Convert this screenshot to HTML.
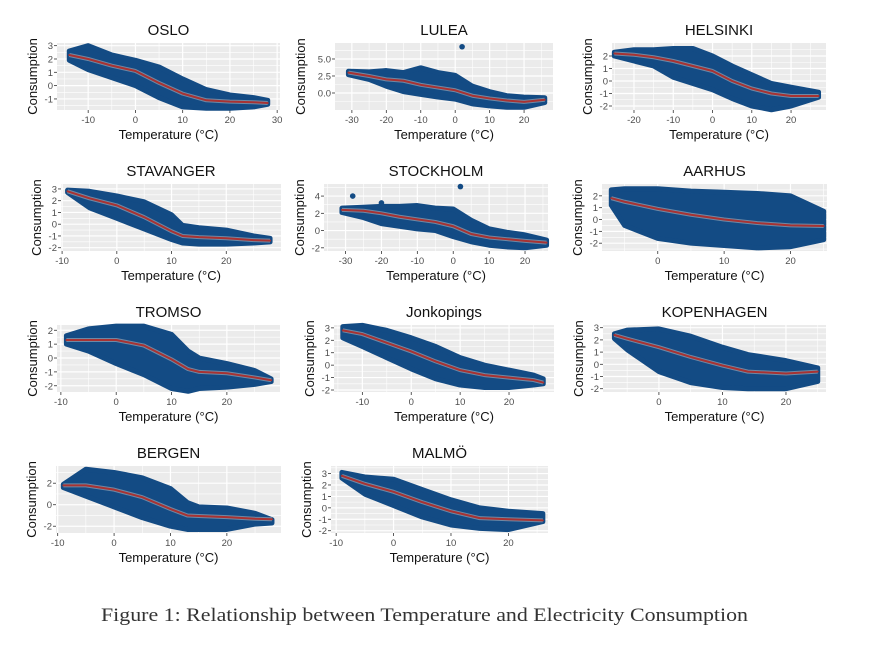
<!DOCTYPE html>
<html><head><meta charset="utf-8">
<style>
html,body{margin:0;padding:0;background:#fff;}
svg{display:block;}
</style></head>
<body>
<svg id="fig" width="881" height="652" viewBox="0 0 881 652" xmlns="http://www.w3.org/2000/svg">
<rect width="881" height="652" fill="#fff"/>
<text x="101" y="621" textLength="647" lengthAdjust="spacingAndGlyphs" font-family="'Liberation Serif', serif" font-size="19" fill="#333">Figure 1: Relationship between Temperature and Electricity Consumption</text>
</svg>
<script>
// ---- data (temperature knots, smooth fit, upper/lower cloud envelopes) ----
const osloTemp=[-14,-10,-5,0,5,10,15,20,25,28];
const osloFit=[2.3,2.0,1.5,1.1,0.2,-0.6,-1.1,-1.2,-1.25,-1.3];
const osloHigh=[2.6,3.0,2.3,1.9,1.4,0.5,-0.3,-0.7,-0.9,-1.1];
const osloLow=[1.9,1.2,0.6,0.0,-0.9,-1.6,-1.7,-1.7,-1.6,-1.4];

const luleaTemp=[-31,-25,-20,-15,-10,-5,0,5,10,15,20,26];
const luleaFit=[3.0,2.5,2.0,1.8,1.2,0.8,0.4,-0.4,-0.8,-1.1,-1.3,-1.0];
const luleaHigh=[3.2,3.1,3.3,3.0,3.7,3.0,2.6,1.0,0.2,-0.4,-0.6,-0.7];
const luleaLow=[2.7,2.0,1.0,0.2,-0.2,-0.6,-0.9,-1.6,-1.9,-2.1,-2.1,-1.4];
const luleaOutX=[2];
const luleaOutY=[6.8];

const helsinkiTemp=[-25,-20,-15,-10,-5,0,5,10,15,20,27];
const helsinkiFit=[2.2,2.1,1.9,1.6,1.2,0.8,0.0,-0.6,-1.0,-1.2,-1.2];
const helsinkiHigh=[2.3,2.5,2.5,2.6,2.6,2.0,1.2,0.5,-0.2,-0.5,-0.9];
const helsinkiLow=[2.0,1.6,1.2,0.3,-0.2,-0.7,-1.4,-2.0,-2.3,-2.0,-1.3];

const stavangerTemp=[-9,-5,0,5,10,12,15,20,25,28];
const stavangerFit=[2.8,2.2,1.6,0.6,-0.6,-1.0,-1.1,-1.2,-1.35,-1.4];
const stavangerHigh=[2.9,2.8,2.4,1.9,0.8,-0.1,-0.3,-0.5,-1.0,-1.2];
const stavangerLow=[2.7,1.4,0.5,-0.4,-1.3,-1.6,-1.7,-1.7,-1.6,-1.5];

const stockholmTemp=[-31,-25,-20,-15,-10,-5,0,5,10,15,20,26];
const stockholmFit=[2.4,2.3,2.0,1.6,1.3,1.0,0.5,-0.4,-0.8,-1.0,-1.2,-1.4];
const stockholmHigh=[2.6,2.7,2.8,2.8,2.9,2.6,2.5,1.2,0.2,-0.2,-0.5,-1.1];
const stockholmLow=[2.1,1.5,0.8,0.5,0.2,0.0,-0.7,-1.3,-1.7,-1.9,-2.0,-1.7];
const stockholmOutX=[2,-28,-20];
const stockholmOutY=[5.1,4.0,3.2];

const aarhusTemp=[-7,-5,0,5,10,15,20,25];
const aarhusFit=[1.8,1.5,0.9,0.4,0.0,-0.3,-0.5,-0.55];
const aarhusHigh=[2.5,2.6,2.6,2.4,2.3,2.2,2.0,0.7];
const aarhusLow=[1.2,-0.5,-1.6,-2.0,-2.2,-2.4,-2.3,-1.7];

const tromsoTemp=[-9,-5,0,5,10,13,15,20,25,28];
const tromsoFit=[1.3,1.3,1.3,0.9,-0.1,-0.8,-1.0,-1.1,-1.4,-1.6];
const tromsoHigh=[1.6,2.1,2.3,2.3,1.7,0.5,0.0,-0.4,-0.9,-1.5];
const tromsoLow=[1.0,0.5,-0.4,-1.2,-2.2,-2.4,-2.2,-2.1,-1.9,-1.7];

const jonkTemp=[-14,-10,-5,0,5,10,15,20,25,27];
const jonkFit=[2.8,2.5,1.8,1.1,0.3,-0.4,-0.8,-1.0,-1.2,-1.4];
const jonkHigh=[3.1,3.2,2.8,2.2,1.5,0.6,0.0,-0.4,-0.8,-1.1];
const jonkLow=[2.2,1.5,0.6,-0.3,-1.1,-1.6,-1.8,-1.8,-1.6,-1.5];

const kopTemp=[-7,-5,0,5,10,14,20,25];
const kopFit=[2.4,2.1,1.4,0.6,-0.1,-0.6,-0.75,-0.6];
const kopHigh=[2.5,2.8,2.9,2.3,1.4,0.8,0.3,-0.3];
const kopLow=[2.1,1.2,-0.6,-1.5,-1.9,-2.0,-2.0,-1.4];

const bergenTemp=[-9,-5,0,5,10,13,15,20,25,28];
const bergenFit=[1.8,1.8,1.4,0.7,-0.4,-1.0,-1.05,-1.15,-1.3,-1.35];
const bergenHigh=[1.9,3.3,3.0,2.5,1.5,0.2,-0.2,-0.3,-0.8,-1.4];
const bergenLow=[1.6,0.8,-0.2,-1.2,-2.0,-2.3,-2.3,-2.3,-1.8,-1.7];

const malmoTemp=[-9,-5,0,5,10,15,20,26];
const malmoFit=[2.8,2.1,1.4,0.5,-0.3,-0.9,-1.0,-1.1];
const malmoHigh=[3.1,2.7,2.5,1.6,0.7,0.0,-0.3,-0.5];
const malmoLow=[2.6,1.2,0.2,-0.8,-1.5,-1.8,-1.9,-1.2];

// tick labels
const osloXTicks=[-10,0,10,20,30], osloYTicks=[-1,0,1,2,3];
const luleaXTicks=[-30,-20,-10,0,10,20], luleaYTicks=[0,2.5,5];
const helsinkiXTicks=[-20,-10,0,10,20], helsinkiYTicks=[-2,-1,0,1,2];
const stavangerXTicks=[-10,0,10,20], stavangerYTicks=[-2,-1,0,1,2,3];
const stockholmXTicks=[-30,-20,-10,0,10,20], stockholmYTicks=[-2,0,2,4];
const aarhusXTicks=[0,10,20], aarhusYTicks=[-2,-1,0,1,2];
const tromsoXTicks=[-10,0,10,20], tromsoYTicks=[-2,-1,0,1,2];
const jonkXTicks=[-10,0,10,20], jonkYTicks=[-2,-1,0,1,2,3];
const kopXTicks=[0,10,20], kopYTicks=[-2,-1,0,1,2,3];
const bergenXTicks=[-10,0,10,20], bergenYTicks=[-2,0,2];
const malmoXTicks=[-10,0,10,20], malmoYTicks=[-2,-1,0,1,2,3];

// ---- layout ----
const panels=[
 {name:'OSLO',slug:'oslo',box:[57,43,280,110],xd:[-16.6,30.6],yd:[-1.83,3.2],t:osloTemp,f:osloFit,h:osloHigh,l:osloLow,xt:osloXTicks,yt:osloYTicks,dec:0},
 {name:'LULEA',slug:'lulea',box:[335,43,553,110],xd:[-34.9,28.4],yd:[-2.5,7.35],t:luleaTemp,f:luleaFit,h:luleaHigh,l:luleaLow,xt:luleaXTicks,yt:luleaYTicks,dec:1,ox:luleaOutX,oy:luleaOutY},
 {name:'HELSINKI',slug:'helsinki',box:[612,43,826,110],xd:[-25.6,28.9],yd:[-2.32,3.04],t:helsinkiTemp,f:helsinkiFit,h:helsinkiHigh,l:helsinkiLow,xt:helsinkiXTicks,yt:helsinkiYTicks,dec:0},
 {name:'STAVANGER',slug:'stavanger',box:[61,184,281,251],xd:[-10.2,30.0],yd:[-2.28,3.42],t:stavangerTemp,f:stavangerFit,h:stavangerHigh,l:stavangerLow,xt:stavangerXTicks,yt:stavangerYTicks,dec:0},
 {name:'STOCKHOLM',slug:'stockholm',box:[324,184,548,251],xd:[-36,26.4],yd:[-2.37,5.4],t:stockholmTemp,f:stockholmFit,h:stockholmHigh,l:stockholmLow,xt:stockholmXTicks,yt:stockholmYTicks,dec:0,ox:stockholmOutX,oy:stockholmOutY},
 {name:'AARHUS',slug:'aarhus',box:[602,184,827,251],xd:[-8.4,25.5],yd:[-2.66,3.0],t:aarhusTemp,f:aarhusFit,h:aarhusHigh,l:aarhusLow,xt:aarhusXTicks,yt:aarhusYTicks,dec:0},
 {name:'TROMSO',slug:'tromso',box:[57,325,280,392],xd:[-10.7,29.6],yd:[-2.45,2.38],t:tromsoTemp,f:tromsoFit,h:tromsoHigh,l:tromsoLow,xt:tromsoXTicks,yt:tromsoYTicks,dec:0},
 {name:'Jonkopings',slug:'jonkopings',box:[334,325,554,392],xd:[-15.8,29.2],yd:[-2.16,3.23],t:jonkTemp,f:jonkFit,h:jonkHigh,l:jonkLow,xt:jonkXTicks,yt:jonkYTicks,dec:0},
 {name:'KOPENHAGEN',slug:'kopenhagen',box:[603,325,826,392],xd:[-8.8,26.3],yd:[-2.27,3.22],t:kopTemp,f:kopFit,h:kopHigh,l:kopLow,xt:kopXTicks,yt:kopYTicks,dec:0},
 {name:'BERGEN',slug:'bergen',box:[56,466,281,533],xd:[-10.3,29.6],yd:[-2.63,3.6],t:bergenTemp,f:bergenFit,h:bergenHigh,l:bergenLow,xt:bergenXTicks,yt:bergenYTicks,dec:0},
 {name:'MALMÖ',slug:'malmo',box:[331,466,548,533],xd:[-10.9,26.9],yd:[-2.2,3.66],t:malmoTemp,f:malmoFit,h:malmoHigh,l:malmoLow,xt:malmoXTicks,yt:malmoYTicks,dec:0}
];

const NS='http://www.w3.org/2000/svg';
const svg=document.getElementById('fig');
function mk(tag,attrs,parent){const e=document.createElementNS(NS,tag);for(const k in attrs)e.setAttribute(k,attrs[k]);(parent||svg).appendChild(e);return e;}

panels.forEach(p=>{
  const [x0,y0,x1,y1]=p.box;
  const sx=v=>x0+(v-p.xd[0])/(p.xd[1]-p.xd[0])*(x1-x0);
  const sy=v=>y1-(v-p.yd[0])/(p.yd[1]-p.yd[0])*(y1-y0);
  const g=mk('g',{});
  
  
  const bg=mk('rect',{x:x0,y:y0,width:x1-x0,height:y1-y0,fill:'#EBEBEB'},g);
  
  
  const xs=p.xt[1]-p.xt[0], ys=p.yt[1]-p.yt[0];
  for(let v=p.xt[0]-xs/2; v<=p.xd[1]; v+=xs){ if(v>p.xd[0]){const X=sx(v); mk('line',{x1:X,x2:X,y1:y0,y2:y1,stroke:'#fff','stroke-width':0.6},g);} }
  for(let v=p.yt[0]-ys/2; v<=p.yd[1]; v+=ys){ if(v>p.yd[0]){const Y=sy(v); mk('line',{x1:x0,x2:x1,y1:Y,y2:Y,stroke:'#fff','stroke-width':0.6},g);} }
  p.xt.forEach(v=>{const X=sx(v);
    mk('line',{x1:X,x2:X,y1:y0,y2:y1,stroke:'#fff','stroke-width':1.2},g);
    mk('line',{x1:X,x2:X,y1:y1,y2:y1+3,stroke:'#333','stroke-width':0.8},g);
    const t=mk('text',{x:X,y:y1+13,'text-anchor':'middle','font-family':'Liberation Sans, sans-serif','font-size':9.5,fill:'#4D4D4D'},g);
    
    
    t.textContent=v;});
  p.yt.forEach(v=>{const Y=sy(v);
    mk('line',{x1:x0,x2:x1,y1:Y,y2:Y,stroke:'#fff','stroke-width':1.2},g);
    mk('line',{x1:x0-3,x2:x0,y1:Y,y2:Y,stroke:'#333','stroke-width':0.8},g);
    const t=mk('text',{x:x0-4,y:Y+3.5,'text-anchor':'end','font-family':'Liberation Sans, sans-serif','font-size':9.5,fill:'#4D4D4D'},g);
    
    
    t.textContent=p.dec?v.toFixed(1):v;});
  let pts=[];
  p.t.forEach((v,i)=>pts.push(sx(v)+','+sy(p.h[i])));
  for(let i=p.t.length-1;i>=0;i--) pts.push(sx(p.t[i])+','+sy(p.l[i]));
  const cloud=mk('polygon',{points:pts.join(' '),fill:'#134B84',stroke:'#134B84','stroke-width':5,'stroke-linejoin':'round'},g);
  
  
  if(p.ox){p.ox.forEach((v,i)=>{const c=mk('circle',{cx:sx(v),cy:sy(p.oy[i]),r:2.8,fill:'#134B84'},g);
    
    });}
  const lp=p.t.map((v,i)=>sx(v)+','+sy(p.f[i])).join(' ');
  mk('polyline',{points:lp,fill:'none',stroke:'#c8c8c8','stroke-width':4,'stroke-opacity':0.5,'stroke-linejoin':'round'},g);
  const line=mk('polyline',{points:lp,fill:'none',stroke:'#A83232','stroke-width':2,'stroke-linejoin':'round','stroke-linecap':'round'},g);
  
  
  const tt=mk('text',{x:(x0+x1)/2,y:y0-8,'text-anchor':'middle','font-family':'Liberation Sans, sans-serif','font-size':15,fill:'#111'},g);
  
  
  tt.textContent=p.name;
  const xa=mk('text',{x:(x0+x1)/2,y:y1+29,'text-anchor':'middle','font-family':'Liberation Sans, sans-serif','font-size':13,fill:'#111'},g);
  
  
  xa.textContent='Temperature (°C)';
  const yx=x0-(p.dec?30:20), ymid=(y0+y1)/2;
  const ya=mk('text',{x:yx,y:ymid,'text-anchor':'middle','font-family':'Liberation Sans, sans-serif','font-size':13,fill:'#111',transform:'rotate(-90 '+yx+' '+ymid+')'},g);
  
  
  ya.textContent='Consumption';
});
</script>
</body></html>
